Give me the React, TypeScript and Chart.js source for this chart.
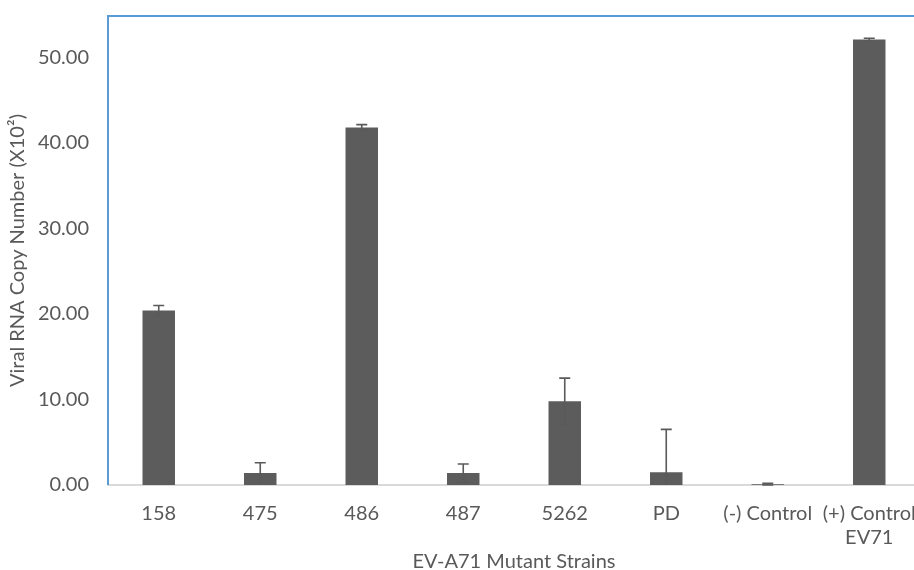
import React, { useEffect, useRef } from "react";
import { Chart, registerables } from "chart.js";

Chart.register(...registerables);

const categories: (string | string[])[] = ["158", "475", "486", "487", "5262", "PD", "(-) Control", ["(+) Control", "EV71"]];
const means = [20.4, 1.4, 41.8, 1.4, 9.8, 1.5, 0.1, 52.1];
const errors = [0.6, 1.2, 0.35, 1.05, 2.7, 5.0, 0.1, 0.15];
const yTicks = [0, 10, 20, 30, 40, 50];
const yMax = 54.85;

const FONT = "Lato, 'Open Sans', sans-serif";
const TEXT = "#595959";

const errorBarPlugin = {
  id: "errorBars",
  afterDatasetsDraw(chart: any) {
    const meta = chart.getDatasetMeta(0);
    const ys = chart.scales.y;
    const area = chart.chartArea;
    const ctx = chart.ctx;
    ctx.save();
    ctx.strokeStyle = "#5a5a5a";
    ctx.lineWidth = 1.6;
    meta.data.forEach((bar: any, i: number) => {
      const v = means[i];
      const e = errors[i];
      const x = bar.x;
      const yTop = ys.getPixelForValue(v + e);
      let yBot = ys.getPixelForValue(v - e);
      const clipped = yBot > area.bottom + 3;
      if (clipped) yBot = area.bottom;
      ctx.beginPath();
      ctx.moveTo(x, yTop);
      ctx.lineTo(x, yBot);
      ctx.moveTo(x - 5.5, yTop);
      ctx.lineTo(x + 5.5, yTop);
      if (!clipped) {
        ctx.moveTo(x - 5.5, yBot);
        ctx.lineTo(x + 5.5, yBot);
      }
      ctx.stroke();
    });
    ctx.restore();
  },
};

const framePlugin = {
  id: "frame",
  afterDraw(chart: any) {
    const a = chart.chartArea;
    const ctx = chart.ctx;
    ctx.save();
    ctx.strokeStyle = "#5B9BD5";
    ctx.lineWidth = 2;
    ctx.beginPath();
    ctx.moveTo(a.left, a.bottom);
    ctx.lineTo(a.left, a.top);
    ctx.lineTo(chart.width, a.top);
    ctx.stroke();
    ctx.restore();
  },
};

export default function App() {
  const ref = useRef<HTMLCanvasElement>(null);
  useEffect(() => {
    document.body.style.margin = "0";
    const chart = new Chart(ref.current as HTMLCanvasElement, {
      type: "bar",
      data: {
        labels: categories as any,
        datasets: [
          {
            data: means,
            backgroundColor: "#5c5c5c",
            borderWidth: 0,
            barPercentage: 0.32,
            categoryPercentage: 1,
          },
        ],
      },
      options: {
        animation: false,
        responsive: false,
        devicePixelRatio: 1,
        layout: { padding: { top: 16, right: 2, left: 0, bottom: 0 } },
        plugins: { legend: { display: false }, tooltip: { enabled: false } },
        scales: {
          x: {
            grid: { display: false, drawTicks: false },
            border: { display: true, color: "#d9d9d9", width: 2 },
            ticks: {
              color: TEXT,
              font: { family: FONT, size: 20, lineHeight: 1.2 },
              padding: 17,
              maxRotation: 0,
              autoSkip: false,
            },
            title: {
              display: true,
              text: "EV-A71 Mutant Strains",
              color: TEXT,
              font: { family: FONT, size: 20, lineHeight: 0.8 },
              padding: { top: 0, bottom: 0 },
            },
            afterFit(scale: any) {
              scale.height = 85;
              scale.paddingLeft = 0;
              scale.paddingRight = 0;
            },
          },
          y: {
            min: 0,
            max: yMax,
            grid: { display: false, drawTicks: false },
            border: { display: false },
            afterBuildTicks(scale: any) {
              scale.ticks = yTicks.map((v) => ({ value: v }));
            },
            ticks: {
              color: TEXT,
              font: { family: FONT, size: 20 },
              padding: 19,
              callback: (v: any) => Number(v).toFixed(2),
            },
            title: {
              display: true,
              text: "Viral RNA Copy Number (X10²)",
              color: TEXT,
              font: { family: FONT, size: 20, lineHeight: 1.2 },
              padding: { top: 6, bottom: 0 },
            },
            afterFit(scale: any) {
              scale.width = 108;
              scale.paddingTop = 0;
              scale.paddingBottom = 0;
            },
          },
        },
      },
      plugins: [errorBarPlugin, framePlugin],
    });
    return () => chart.destroy();
  }, []);
  return (
    <div style={{ position: "fixed", left: 0, top: 0, width: 914, height: 570, overflow: "hidden", background: "#fff" }}>
      <canvas ref={ref} width={922} height={570} style={{ display: "block" }} />
    </div>
  );
}
